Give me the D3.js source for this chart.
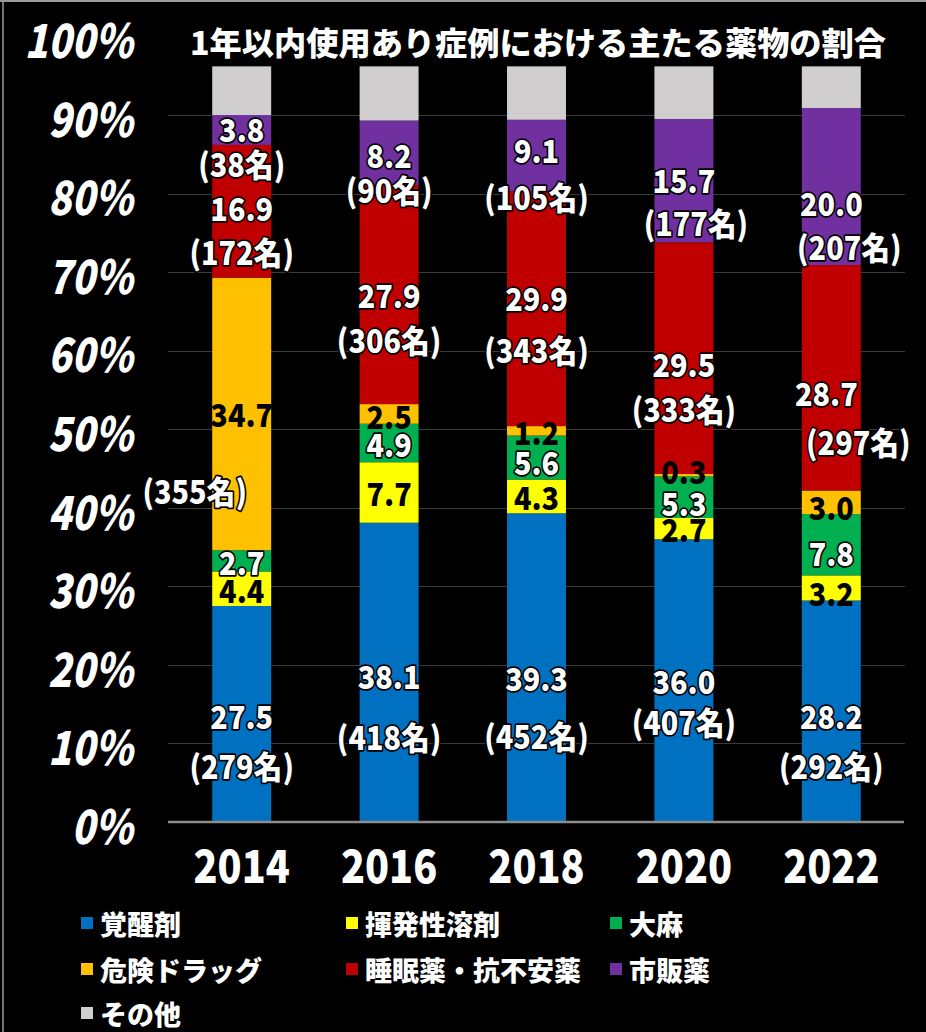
<!DOCTYPE html>
<html>
<head>
<meta charset="utf-8">
<script src="https://cdn.jsdelivr.net/npm/d3@7/dist/d3.min.js"></script>
<style>
  html, body { margin: 0; padding: 0; background: #000; }
  svg { display: block; }
  text { font-family: "Noto Sans CJK JP", "Noto Sans", sans-serif; }
</style>
</head>
<body>
<svg id="chart" width="926" height="1032"></svg>
<script>
// ---------------- DATA ----------------
const years = ["2014", "2016", "2018", "2020", "2022"];
const seriesNames = ["覚醒剤", "揮発性溶剤", "大麻", "危険ドラッグ", "睡眠薬・抗不安薬", "市販薬", "その他"];
const stimulants     = [27.5, 38.1, 39.3, 36.0, 28.2];
const solvents       = [4.4, 7.7, 4.3, 2.7, 3.2];
const cannabis       = [2.7, 4.9, 5.6, 5.3, 7.8];
const dangerousDrugs = [34.7, 2.5, 1.2, 0.3, 3.0];
const sedatives      = [16.9, 27.9, 29.9, 29.5, 28.7];
const otcDrugs       = [3.8, 8.2, 9.1, 15.7, 20.0];
const others         = [6.2, 6.9, 6.8, 6.7, 5.3];
// patient counts (名)
const stimulantsCount     = [279, 418, 452, 407, 292];
const dangerousDrugsCount = [355, null, null, null, null];
const sedativesCount      = [172, 306, 343, 333, 297];
const otcDrugsCount       = [38, 90, 105, 177, 207];
const yTickValues = [0, 10, 20, 30, 40, 50, 60, 70, 80, 90, 100];
const titleText = "1年以内使用あり症例における主たる薬物の割合";

// ---------------- STYLE / LAYOUT ----------------
const colors = ["#0070C0", "#FFFF00", "#00B050", "#FFC000", "#C00000", "#7030A0", "#D0CECE"];
const darkLabelSeries = new Set([1, 3]); // black text on yellow / orange
// label nudges relative to segment centre: [dy1, dy2, dx1, dx2]
const labelNudge = {
  "2014": {0: [1, 51], 1: [1], 2: [1], 3: [-1, 76, 0, -47], 4: [-4, 40], 5: [-2, 33]},
  "2016": {0: [3, 64], 1: [0], 2: [0], 3: [1], 4: [0, 45], 5: [2, 37]},
  "2018": {0: [10, 68], 1: [0], 2: [4], 3: [1], 4: [-11, 41], 5: [-6, 41]},
  "2020": {0: [0, 41], 1: [0], 2: [5], 3: [-5], 4: [5, 50], 5: [-1, 42, 0, 12]},
  "2022": {0: [4, 54], 1: [4], 2: [8], 3: [4], 4: [15, 64, -5, 27], 5: [16, 60, 0, 18]}
};

const valueSeries = [stimulants, solvents, cannabis, dangerousDrugs, sedatives, otcDrugs, others];
const countSeries = [stimulantsCount, null, null, dangerousDrugsCount, sedativesCount, otcDrugsCount, null];

const table = years.map((yr, i) => {
  const row = {year: yr};
  seriesNames.forEach((s, k) => row[s] = valueSeries[k][i]);
  return row;
});

const svg = d3.select("#chart");
svg.append("rect").attr("width", 926).attr("height", 1032).attr("fill", "#000");
// frame
svg.append("line").attr("x1", 0).attr("x2", 926).attr("y1", 1).attr("y2", 1).attr("stroke", "#9a9a9a").attr("stroke-width", 2);
svg.append("line").attr("x1", 3).attr("x2", 3).attr("y1", 0).attr("y2", 1032).attr("stroke", "#9a9a9a").attr("stroke-width", 1.5);

const x = d3.scaleBand().domain(years).range([168, 905]).paddingInner(0.6).paddingOuter(0.3);
const y = d3.scaleLinear().domain([0, 100]).range([822, 36.5]);

// gridlines
svg.append("g").selectAll("line")
  .data(yTickValues.filter(v => v > 0 && v < 100))
  .join("line")
  .attr("x1", 168).attr("x2", 905)
  .attr("y1", d => Math.round(y(d)) + 0.5).attr("y2", d => Math.round(y(d)) + 0.5)
  .attr("stroke", "#3a3a3a").attr("stroke-width", 1);

// y tick labels
svg.append("g").selectAll("text")
  .data(yTickValues)
  .join("text")
  .attr("transform", d => `translate(133,${y(d) + 1}) scale(0.82,1)`)
  .attr("text-anchor", "end")
  .attr("dominant-baseline", "central")
  .attr("font-size", 47)
  .attr("font-weight", 900)
  .attr("font-style", "italic")
  .attr("fill", "#fff")
  .text(d => d + "%");

// stacked bars
const stack = d3.stack().keys(seriesNames);
const stacked = stack(table);

const gBars = svg.append("g");
stacked.forEach((layer, k) => {
  gBars.append("g").attr("fill", colors[k]).selectAll("rect")
    .data(layer)
    .join("rect")
    .attr("x", d => x(d.data.year))
    .attr("width", x.bandwidth())
    .attr("y", d => y(d[1]))
    .attr("height", d => y(d[0]) - y(d[1]));
});

// baseline
svg.append("line").attr("x1", 168).attr("x2", 904).attr("y1", 822).attr("y2", 822)
  .attr("stroke", "#8c8c8c").attr("stroke-width", 2.5);

// year labels
svg.append("g").selectAll("text")
  .data(years)
  .join("text")
  .attr("transform", d => `translate(${x(d) + x.bandwidth() / 2},863) scale(0.86,1)`)
  .attr("text-anchor", "middle")
  .attr("dominant-baseline", "central")
  .attr("font-size", 46)
  .attr("font-weight", 900)
  .attr("fill", "#fff")
  .text(d => d);

// data labels
const gLabels = svg.append("g");
function addLabel(cx, cy, txt, dark) {
  const t = gLabels.append("text")
    .attr("transform", `translate(${cx},${cy}) scale(0.9,1)`)
    .attr("text-anchor", "middle")
    .attr("dominant-baseline", "central")
    .attr("font-size", 32)
    .attr("font-weight", 900)
    .text(txt);
  if (dark) {
    t.attr("fill", "#000");
  } else {
    t.attr("fill", "#fff").attr("stroke", "#000").attr("stroke-width", 3.5)
      .attr("stroke-linejoin", "round").attr("paint-order", "stroke");
  }
}
stacked.forEach((layer, k) => {
  if (k === 6) return;
  layer.forEach((d, i) => {
    const yr = d.data.year;
    const cx = x(yr) + x.bandwidth() / 2;
    const cy = (y(d[0]) + y(d[1])) / 2;
    const n = (labelNudge[yr] && labelNudge[yr][k]) || [0, 0, 0, 0];
    const dy1 = n[0] || 0, dy2 = n[1] || 0, dx1 = n[2] || 0, dx2 = n[3] || 0;
    addLabel(cx + dx1, cy + dy1, valueSeries[k][i].toFixed(1), darkLabelSeries.has(k));
    const counts = countSeries[k];
    if (counts && counts[i] != null) {
      addLabel(cx + dx2, cy + dy2, "(" + counts[i] + "名)", false);
    }
  });
});

// title
svg.append("text")
  .attr("x", 190).attr("y", 41)
  .attr("dominant-baseline", "central")
  .attr("font-size", 32)
  .attr("font-weight", 900)
  .attr("fill", "#fff")
  .attr("textLength", 696)
  .attr("lengthAdjust", "spacingAndGlyphs")
  .text(titleText);

// legend
const legendPos = [
  [81, 923], [346, 923], [610, 923],
  [81, 969], [346, 969], [610, 969],
  [81, 1013]
];
const gLeg = svg.append("g");
seriesNames.forEach((name, k) => {
  const [lx, ly] = legendPos[k];
  gLeg.append("rect").attr("x", lx).attr("y", ly - 6).attr("width", 12).attr("height", 12).attr("fill", colors[k]);
  gLeg.append("text")
    .attr("x", lx + 19).attr("y", ly)
    .attr("dominant-baseline", "central")
    .attr("font-size", 27)
    .attr("font-weight", 900)
    .attr("fill", "#fff")
    .text(name);
});
</script>
</body>
</html>
